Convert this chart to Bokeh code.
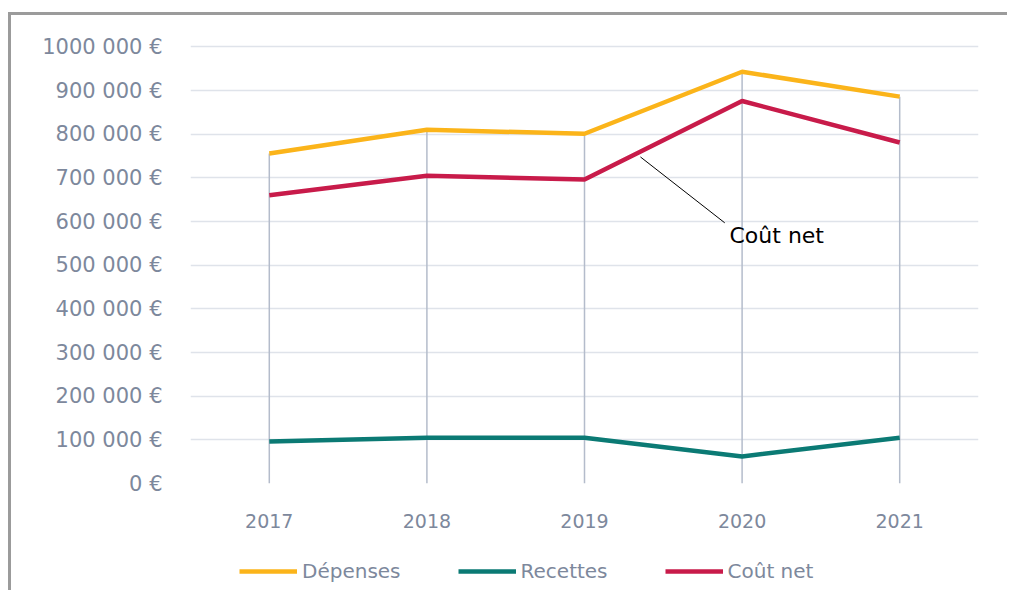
from bokeh.plotting import figure
from bokeh.models import (FactorRange, Range1d, FixedTicker, Legend, LegendItem,
                          Label, ColumnDataSource)
from bokeh.layouts import column
from bokeh.embed import file_html
from bokeh.resources import INLINE

# ---- data ----
years = ["2017", "2018", "2019", "2020", "2021"]
depenses = [756000, 810000, 801000, 943000, 886000]
recettes = [96000, 105000, 105000, 62000, 105000]
cout_net = [660000, 705000, 696000, 876000, 781000]

series_names = ["Dépenses", "Recettes", "Coût net"]
series_colors = ["#fbb41a", "#0b7a74", "#c81b4a"]

y_ticks = [0, 100000, 200000, 300000, 400000, 500000, 600000, 700000, 800000, 900000, 1000000]
y_tick_labels = ["0 €", "100 000 €", "200 000 €", "300 000 €", "400 000 €", "500 000 €",
                 "600 000 €", "700 000 €", "800 000 €", "900 000 €", "1000 000 €"]

annotation_text = "Coût net"

FONT = "DejaVu Sans"
TICK_COLOR = "#7d889c"

p = figure(x_range=FactorRange(*years), y_range=Range1d(0, 1010000),
           width=996, height=525, output_backend="svg", toolbar_location=None,
           min_border_left=179, min_border_top=27, min_border_right=29,
           min_border_bottom=57)
p.outline_line_color = None
p.background_fill_color = "white"

# grid
p.xgrid.grid_line_color = None
p.ygrid.grid_line_color = "#dfe3ea"
p.ygrid.grid_line_width = 1.5
p.yaxis.ticker = FixedTicker(ticks=y_ticks)
p.yaxis.major_label_overrides = {t: l for t, l in zip(y_ticks, y_tick_labels)}

for ax in (p.xaxis, p.yaxis):
    ax.axis_line_color = None
    ax.major_tick_line_color = None
    ax.minor_tick_line_color = None
    ax.major_label_text_font = FONT
    ax.major_label_text_color = TICK_COLOR
p.yaxis.major_label_text_font_size = "21px"
p.xaxis.major_label_text_font_size = "19px"
p.yaxis.major_label_standoff = 22
p.xaxis.major_label_standoff = 24

# drop lines
src = ColumnDataSource(dict(x=years, dep=depenses, rec=recettes, net=cout_net,
                            zero=[0] * len(years)))
p.segment(x0="x", y0="zero", x1="x", y1="dep", source=src,
          line_color="#b4bccb", line_width=1.5)

cols = ["dep", "rec", "net"]
for col, c in zip(cols, series_colors):
    p.line("x", col, source=src, line_color=c, line_width=4.5)

# annotation (positions in categorical synthetic units: 2019 -> 2.5, 2020 -> 3.5)
frac = 0.355
ax0 = 2.5 + frac
ay0 = cout_net[2] + (cout_net[3] - cout_net[2]) * frac - 12000
p.add_layout(Label(x=3.42, y=567000, text=annotation_text, text_font=FONT,
                   text_font_size="22px", text_color="black",
                   text_baseline="middle", text_align="left"))
p.segment(x0=[ax0], y0=[ay0], x1=[3.39], y1=[597000], line_color="black", line_width=1)

# legend strip (separate figure so the legend is not clipped by the plot frame);
# its lines reuse the same data but lie outside its visible range
p2 = figure(width=996, height=50, output_backend="svg", toolbar_location=None,
            x_range=FactorRange(*years), y_range=Range1d(-2, -1),
            min_border=0, x_axis_location=None, y_axis_location=None)
p2.grid.visible = False
p2.outline_line_color = None
items = []
for name, col, c in zip(series_names, cols, series_colors):
    r = p2.line("x", col, source=src, line_color=c, line_width=4.5)
    items.append(LegendItem(label=name, renderers=[r]))
legend = Legend(items=items, orientation="horizontal", location=(49, 7))
legend.border_line_color = None
legend.background_fill_alpha = 0
legend.glyph_width = 58
legend.glyph_height = 20
legend.label_standoff = 5
legend.spacing = 57
legend.label_text_font = FONT
legend.label_text_font_size = "20px"
legend.label_text_color = TICK_COLOR
legend.padding = 8
legend.margin = 0
p2.add_layout(legend, "center")

layout = column(p, p2, spacing=0,
                styles={"border-top": "3px solid #9b9b9b",
                        "border-left": "3px solid #9b9b9b",
                        "margin-top": "12px", "margin-left": "8px"})

open("out.html", "w").write(file_html(layout, INLINE))
